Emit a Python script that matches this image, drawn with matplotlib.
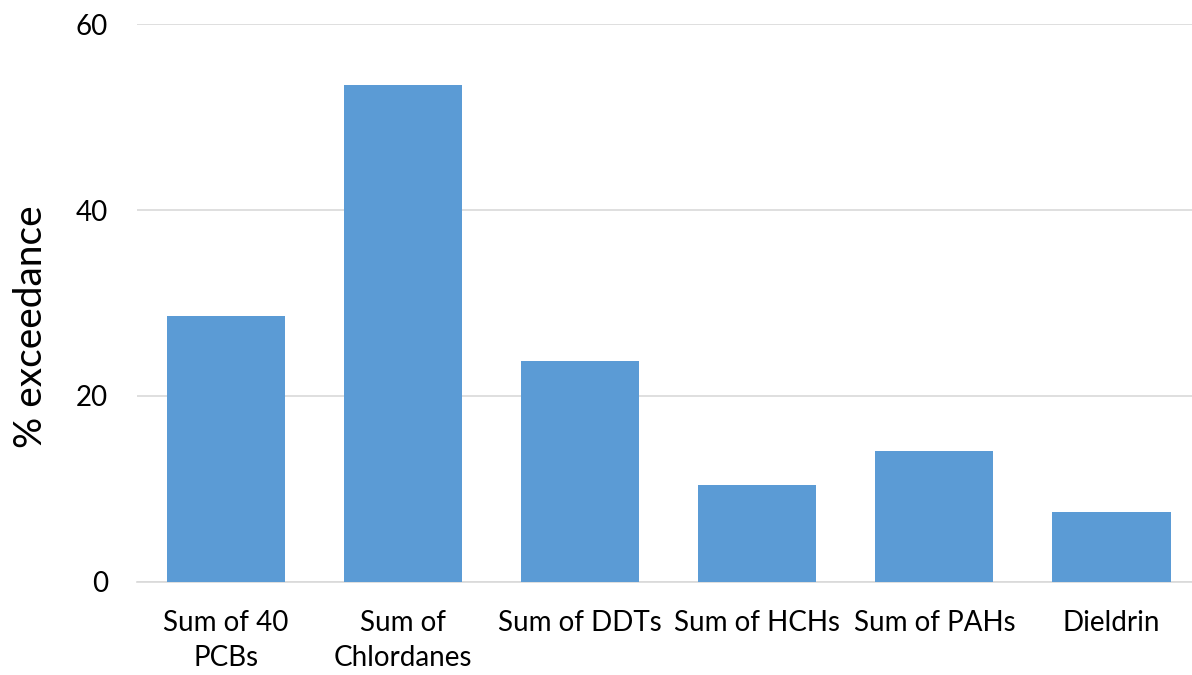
import matplotlib
matplotlib.use('Agg')
import matplotlib.pyplot as plt

categories = ['Sum of 40\nPCBs', 'Sum of\nChlordanes', 'Sum of DDTs', 'Sum of HCHs', 'Sum of PAHs', 'Dieldrin']
exceedance = [28.6, 53.4, 23.8, 10.4, 14.1, 7.5]
yticks = [0, 20, 40, 60]

plt.rcParams['font.family'] = ['Lato', 'DejaVu Sans']

fig = plt.figure(figsize=(11.92, 6.75), dpi=100)
ax = fig.add_axes([0.1150, 0.1378, 0.8918, 0.8266])

x = range(len(categories))
ax.bar(x, exceedance, width=0.667, color='#5B9BD5', zorder=3)

ax.set_xlim(-0.5, len(categories) - 0.5)
ax.set_ylim(0, 60)
ax.set_yticks(yticks)
ax.set_xticks(list(x))
ax.set_xticklabels(categories, fontsize=20, color='#000000', linespacing=1.45)
ax.tick_params(axis='y', labelsize=20, length=0, pad=21)
ax.tick_params(axis='x', length=0, pad=20)
ax.yaxis.grid(True, color='#D9D9D9', linewidth=1.2, zorder=0)
for s in ['top', 'right', 'left']:
    ax.spines[s].set_visible(False)
ax.spines['bottom'].set_color('#D9D9D9')
ax.spines['bottom'].set_linewidth(1.2)

ax.set_ylabel('% exceedance', fontsize=28)
ax.yaxis.set_label_coords(-0.083, 0.457)

fig.savefig('out.png', dpi=100)
